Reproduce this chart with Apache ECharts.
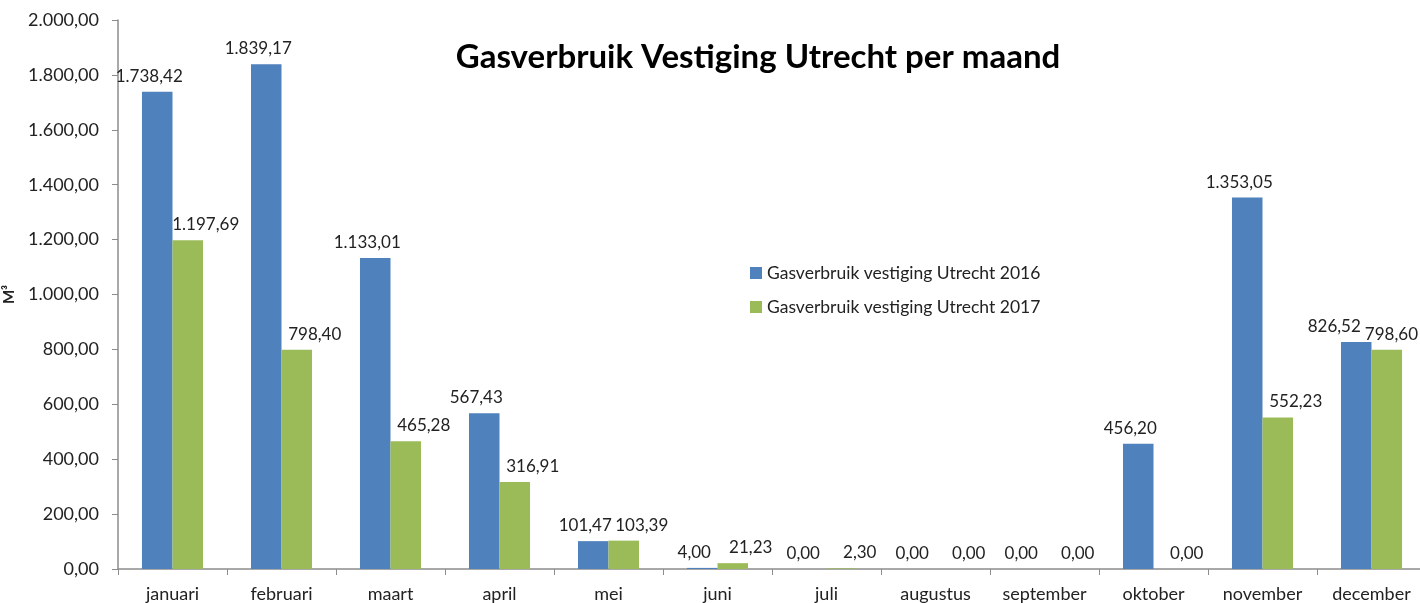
<!DOCTYPE html>
<html>
<head>
<meta charset="utf-8">
<script src="https://cdn.jsdelivr.net/npm/echarts@6/dist/echarts.min.js"></script>
<style>
  html, body { margin: 0; padding: 0; background: #fff; }
  #gasChart { width: 1420px; height: 603px; }
</style>
</head>
<body>
<div id="gasChart"></div>
<script>
const maanden = ['januari', 'februari', 'maart', 'april', 'mei', 'juni', 'juli', 'augustus', 'september', 'oktober', 'november', 'december']
const gas2016 = [1738.42, 1839.17, 1133.01, 567.43, 101.47, 4.00, 0.00, 0.00, 0.00, 456.20, 1353.05, 826.52]
const gas2017 = [1197.69, 798.40, 465.28, 316.91, 103.39, 21.23, 2.30, 0.00, 0.00, 0.00, 552.23, 798.60]
const seriesNames = ['Gasverbruik vestiging Utrecht 2016', 'Gasverbruik vestiging Utrecht 2017']

// Nederlandse notatie: 1.738,42
function nlFormat (v) {
  const parts = Number(v).toFixed(2).split('.')
  parts[0] = parts[0].replace(/\B(?=(\d{3})+(?!\d))/g, '.')
  return parts[0] + ',' + parts[1]
}

const fontFam = 'Lato, "Noto Sans", sans-serif'
const textColor = '#222'
const axisColor = '#8c8c8c'
const chart = echarts.init(document.getElementById('gasChart'))

const barLabel = {
  show: true,
  position: 'top',
  distance: 7,
  color: textColor,
  fontSize: 17,
  fontFamily: fontFam,
  formatter: p => nlFormat(p.value)
}

// labels iets uit elkaar schuiven, maar binnen de rechterrand houden
// (reserveRoom: plek laten voor het label van de rechterbuur)
function shiftLabel (dx, reserveRoom) {
  return function (params) {
    const r = params.labelRect
    let maxRight = chart.getWidth() - 2
    if (reserveRoom) maxRight -= r.width + 4
    let shift = dx
    if (r.x + r.width + shift > maxRight) shift = maxRight - (r.x + r.width)
    return { dx: shift }
  }
}

const option = {
  animation: false,
  title: {
    text: 'Gasverbruik Vestiging Utrecht per maand',
    left: 753,
    top: 36,
    textAlign: 'center',
    textStyle: {
      fontSize: 33,
      fontWeight: 'bold',
      color: '#000',
      fontFamily: fontFam
    }
  },
  legend: {
    orient: 'vertical',
    left: 745,
    top: 259,
    itemWidth: 12,
    itemHeight: 12,
    itemGap: 16,
    icon: 'rect',
    textStyle: {
      fontSize: 17.5,
      color: textColor,
      fontFamily: fontFam
    },
    data: seriesNames
  },
  grid: {
    left: 118,
    top: 20,
    width: 1308,
    bottom: 34,
    outerBoundsMode: 'none'
  },
  xAxis: {
    type: 'category',
    data: maanden,
    axisLine: { lineStyle: { color: axisColor, width: 1.5 } },
    axisTick: { show: true, length: 6, lineStyle: { color: axisColor } },
    axisLabel: {
      interval: 0,
      color: textColor,
      fontSize: 18,
      margin: 16,
      fontFamily: fontFam
    }
  },
  yAxis: {
    type: 'value',
    min: 0,
    max: 2000,
    interval: 200,
    name: 'M³',
    nameLocation: 'middle',
    nameGap: 96,
    nameRotate: 90,
    nameTextStyle: { fontSize: 15, fontWeight: 'bold', color: textColor, fontFamily: fontFam },
    splitLine: { show: false },
    axisLine: { show: true, lineStyle: { color: axisColor, width: 1.5 } },
    axisTick: { show: true, length: 6, lineStyle: { color: axisColor } },
    axisLabel: {
      color: textColor,
      fontSize: 18,
      margin: 19,
      fontFamily: fontFam,
      formatter: v => nlFormat(v)
    }
  },
  series: [
    {
      name: seriesNames[0],
      type: 'bar',
      data: gas2016,
      barGap: '0%',
      barCategoryGap: '44%',
      itemStyle: { color: '#4f81bd' },
      label: barLabel,
      labelLayout: shiftLabel(-8, true)
    },
    {
      name: seriesNames[1],
      type: 'bar',
      data: gas2017,
      itemStyle: { color: '#9bbb59' },
      label: barLabel,
      labelLayout: shiftLabel(18, false)
    }
  ]
}

chart.setOption(option)
</script>
</body>
</html>
